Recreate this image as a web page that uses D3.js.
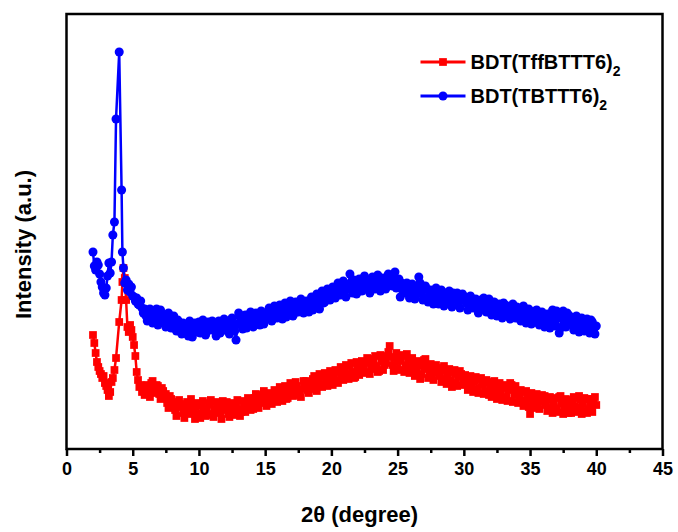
<!DOCTYPE html>
<meta charset="utf-8">
<style>
body { margin: 0; background: #fff; }
text { font-family: "Liberation Sans", Arial, sans-serif; font-weight: bold; fill: #000; }
.line { fill: none; stroke-width: 2.5px; stroke-linejoin: round; }
.axis line { stroke: #000; stroke-width: 2.5px; }
.axis path { display: none; }
</style>
<body>
<script src="https://d3js.org/d3.v7.min.js"></script>
<script>

// 2theta positions of the scan (degree)
var twoTheta = [
  2,2.1,2.2,2.3,2.4,2.5,2.6,2.7,2.8,2.9,3,3.1,3.2,3.3,3.4,3.5,
  3.62,3.74,3.98,4.16,4.22,4.3,
  4.4,4.5,4.6,4.7,4.8,4.9,5,5.1,5.2,5.3,5.4,5.5,5.6,5.7,5.8,5.9,6,
  6.1,6.2,6.3,6.4,6.5,6.6,6.7,6.8,6.9,7,7.1,7.2,7.3,7.4,7.5,7.6,7.7,7.8,7.9,8,
  8.1,8.2,8.3,8.4,8.5,8.6,8.7,8.8,8.9,9,9.1,9.2,9.3,9.4,9.5,9.6,9.7,9.8,9.9,10,
  10.1,10.2,10.3,10.4,10.5,10.6,10.7,10.8,10.9,11,11.1,11.2,11.3,11.4,11.5,11.6,11.7,11.8,11.9,12,
  12.1,12.2,12.3,12.4,12.5,12.6,12.7,12.8,12.9,13,13.1,13.2,13.3,13.4,13.5,13.6,13.7,13.8,13.9,14,
  14.1,14.2,14.3,14.4,14.5,14.6,14.7,14.8,14.9,15,15.1,15.2,15.3,15.4,15.5,15.6,15.7,15.8,15.9,16,
  16.1,16.2,16.3,16.4,16.5,16.6,16.7,16.8,16.9,17,17.1,17.2,17.3,17.4,17.5,17.6,17.7,17.8,17.9,18,
  18.1,18.2,18.3,18.4,18.5,18.6,18.7,18.8,18.9,19,19.1,19.2,19.3,19.4,19.5,19.6,19.7,19.8,19.9,20,
  20.1,20.2,20.3,20.4,20.5,20.6,20.7,20.8,20.9,21,21.1,21.2,21.3,21.4,21.5,21.6,21.7,21.8,21.9,22,
  22.1,22.2,22.3,22.4,22.5,22.6,22.7,22.8,22.9,23,23.1,23.2,23.3,23.4,23.5,23.6,23.7,23.8,23.9,24,
  24.1,24.2,24.3,24.4,24.5,24.6,24.7,24.8,24.9,25,25.1,25.2,25.3,25.4,25.5,25.6,25.7,25.8,25.9,26,
  26.1,26.2,26.3,26.4,26.5,26.6,26.7,26.8,26.9,27,27.1,27.2,27.3,27.4,27.5,27.6,27.7,27.8,27.9,28,
  28.1,28.2,28.3,28.4,28.5,28.6,28.7,28.8,28.9,29,29.1,29.2,29.3,29.4,29.5,29.6,29.7,29.8,29.9,30,
  30.1,30.2,30.3,30.4,30.5,30.6,30.7,30.8,30.9,31,31.1,31.2,31.3,31.4,31.5,31.6,31.7,31.8,31.9,32,
  32.1,32.2,32.3,32.4,32.5,32.6,32.7,32.8,32.9,33,33.1,33.2,33.3,33.4,33.5,33.6,33.7,33.8,33.9,34,
  34.1,34.2,34.3,34.4,34.5,34.6,34.7,34.8,34.9,35,35.1,35.2,35.3,35.4,35.5,35.6,35.7,35.8,35.9,36,
  36.1,36.2,36.3,36.4,36.5,36.6,36.7,36.8,36.9,37,37.1,37.2,37.3,37.4,37.5,37.6,37.7,37.8,37.9,38,
  38.1,38.2,38.3,38.4,38.5,38.6,38.7,38.8,38.9,39,39.1,39.2,39.3,39.4,39.5,39.6,39.7,39.8,39.9,40
];

// intensity (a.u.), BDT(TffBTTT6)2
var intensityTff = [
  114,106,96,87,82,78,75,71,73,66,63,59,53,57,67,71,
  79,91,127,149,167,181,
  171,149,122,117,124,119,112,104,93,77,69,62,64,57,60,54,56,
  64,57,52,66,68,60,56,64,63,55,50,61,58,51,55,46,41,53,50,42,
  46,39,33,47,49,42,44,36,31,45,47,40,35,50,44,38,30,43,46,35,
  31,44,48,37,33,41,35,46,49,34,32,40,47,43,38,36,30,48,45,39,
  47,35,32,42,46,38,34,45,49,40,33,37,48,46,37,42,51,49,39,44,
  40,51,55,44,41,48,52,54,58,46,43,50,56,55,45,48,59,53,47,57,
  62,52,48,58,63,50,51,56,66,61,53,54,67,63,55,57,52,60,68,65,
  68,59,56,64,60,70,73,61,58,67,75,72,62,64,76,69,63,74,78,66,
  64,73,79,68,66,77,82,71,69,80,84,75,70,83,86,77,71,72,87,81,
  74,79,88,85,77,76,91,87,75,82,80,90,93,83,77,78,94,88,79,84,
  86,93,97,103,92,84,78,91,96,80,79,88,93,94,77,83,95,89,76,81,
  91,86,73,78,88,83,70,75,84,89,90,80,71,74,85,82,69,76,84,79,
  81,73,67,79,83,70,65,75,80,68,62,77,79,66,63,72,78,75,64,69,
  74,66,59,71,73,63,57,68,72,60,56,70,71,64,55,58,69,67,54,62,
  52,65,68,57,50,61,66,55,49,63,64,52,48,59,66,64,47,54,63,58,
  46,51,59,57,43,48,58,54,42,35,56,50,41,45,55,53,40,47,54,51,
  53,44,38,50,52,41,36,48,51,39,37,52,53,45,35,40,50,49,36,43,
  36,47,52,40,37,51,53,42,35,46,51,38,36,50,50,43,37,48,52,44
];

// intensity (a.u.), BDT(TBTTT6)2
var intensityTB = [
  197,183,179,187,184,175,167,162,156,154,161,173,186,176,187,214,
  227,330,397,259,197,181,
  166,169,159,165,157,162,153,152,148,151,145,144,148,141,136,140,133,
  128,131,140,138,126,133,134,140,124,131,139,135,130,127,122,132,136,125,121,130,
  133,123,118,129,127,120,115,126,124,117,119,113,128,125,112,119,126,122,117,127,
  116,121,129,125,114,118,127,124,119,128,126,120,113,123,128,116,118,125,130,122,
  128,119,115,126,131,122,118,109,125,136,132,124,120,130,134,121,124,128,137,133,
  122,127,136,132,128,124,138,134,125,129,133,137,141,131,128,140,143,133,131,138,
  144,135,130,141,146,132,135,139,148,144,133,136,147,140,137,145,150,138,136,143,
  148,141,137,147,152,139,143,149,155,144,140,152,158,146,147,155,160,150,149,157,
  162,153,151,160,166,155,154,164,168,158,152,161,165,175,160,156,169,165,155,159,
  170,166,158,161,173,168,163,159,156,165,172,170,160,162,174,167,158,160,171,169,
  160,165,175,171,166,163,173,177,161,168,170,152,166,162,158,156,166,164,151,158,
  165,161,150,154,162,172,166,157,149,151,163,160,147,153,159,158,145,150,161,155,
  145,152,159,157,143,149,155,154,158,147,142,156,154,151,156,146,141,153,155,149,
  152,146,139,151,153,144,141,149,150,142,136,147,149,140,151,145,137,148,150,142,
  134,139,147,144,133,136,145,141,131,146,144,138,143,134,130,140,145,136,131,142,
  141,135,128,139,143,132,126,137,140,129,125,134,127,138,139,130,124,133,137,128,
  122,131,135,126,121,134,139,128,123,138,136,116,121,131,138,124,122,136,134,129,
  132,125,119,131,133,123,117,128,131,120,118,126,130,122,116,129,127,119,115,123
];

var xTicks = [0, 5, 10, 15, 20, 25, 30, 35, 40, 45];
var xMinorTicks = [2.5, 7.5, 12.5, 17.5, 22.5, 27.5, 32.5, 37.5, 42.5];

var margin = {top: 14, right: 15.5, bottom: 83, left: 66.5},
    width = 678 - margin.left - margin.right,
    height = 532 - margin.top - margin.bottom;

var x = d3.scaleLinear().domain([0, 45]).range([0, width]);
var y = d3.scaleLinear().domain([0, 435]).range([height, 0]);

var svg = d3.select("body").append("svg")
    .attr("width", 678)
    .attr("height", 532)
  .append("g")
    .attr("transform", "translate(" + margin.left + "," + margin.top + ")");

var series = [
  {name: "BDT(TffBTTT6)", values: intensityTff, color: "#ff0000", symbol: d3.symbolSquare, size: 60},
  {name: "BDT(TBTTT6)", values: intensityTB, color: "#0000ff", symbol: d3.symbolCircle, size: 64}
];

var valueline = d3.line()
    .x(function(d) { return x(d[0]); })
    .y(function(d) { return y(d[1]); });

series.forEach(function(s) {
  var data = twoTheta.map(function(t, i) { return [t, s.values[i]]; });

  svg.append("path")
      .datum(data)
      .attr("class", "line")
      .style("stroke", s.color)
      .attr("d", valueline);

  svg.append("g").selectAll("path")
      .data(data)
    .enter().append("path")
      .attr("transform", function(d) { return "translate(" + x(d[0]) + "," + y(d[1]) + ")"; })
      .attr("d", d3.symbol().type(s.symbol).size(s.size))
      .style("fill", s.color);
});

// frame
svg.append("rect")
    .attr("width", width)
    .attr("height", height)
    .style("fill", "none")
    .style("stroke", "#000")
    .style("stroke-width", 2.5);

// x axis, major + minor ticks
var xAxis = svg.append("g")
    .attr("class", "axis")
    .attr("transform", "translate(0," + height + ")")
    .call(d3.axisBottom(x).tickValues(xTicks).tickSize(7).tickPadding(6).tickFormat(d3.format("d")));
xAxis.selectAll("text").style("font-size", "18px");

svg.append("g")
    .attr("class", "axis")
    .attr("transform", "translate(0," + height + ")")
    .call(d3.axisBottom(x).tickValues(xMinorTicks).tickSize(4).tickFormat(""));

// axis titles
svg.append("text")
    .attr("x", width / 2 - 5)
    .attr("y", height + 73)
    .attr("text-anchor", "middle")
    .style("font-size", "22px")
    .text("2θ (degree)");

svg.append("text")
    .attr("transform", "translate(" + (31 - margin.left) + "," + (height / 2 + 13) + ") rotate(-90)")
    .attr("text-anchor", "middle")
    .style("font-size", "22px")
    .text("Intensity (a.u.)");

// legend
var legend = svg.append("g").attr("transform", "translate(354,48)");
series.forEach(function(s, i) {
  var row = legend.append("g").attr("transform", "translate(0," + (i * 34) + ")");
  row.append("line")
      .attr("x1", 0).attr("x2", 45)
      .style("stroke", s.color)
      .style("stroke-width", 3);
  row.append("path")
      .attr("transform", "translate(22.5,0)")
      .attr("d", d3.symbol().type(s.symbol).size(s.size))
      .style("fill", s.color);
  var t = row.append("text")
      .attr("x", 50)
      .attr("y", 7)
      .style("font-size", "20px")
      .text(s.name);
  t.append("tspan")
      .attr("dy", 7)
      .style("font-size", "14px")
      .text("2");
});

</script>
</body>
